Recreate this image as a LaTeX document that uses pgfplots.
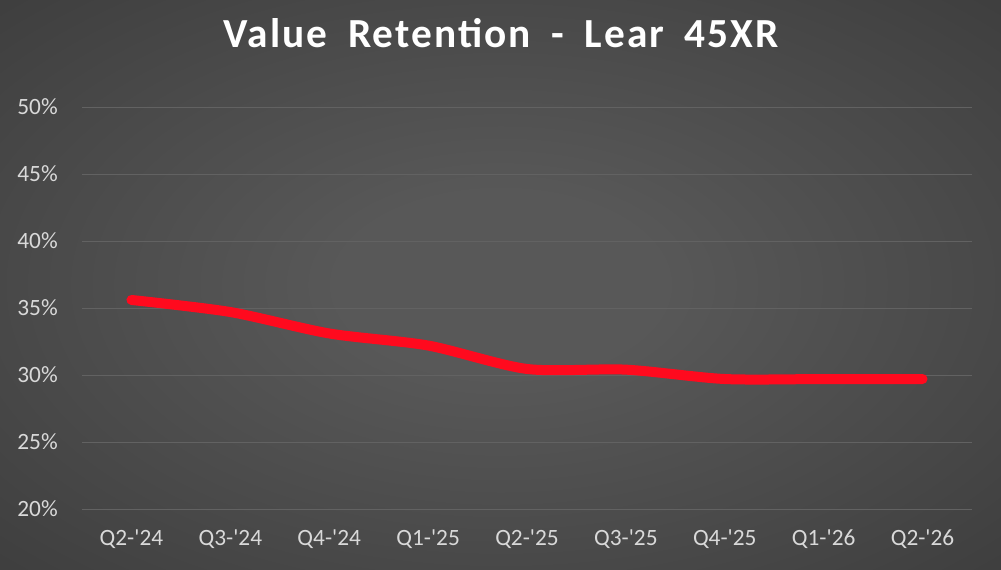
\documentclass[border=0pt]{standalone}
\usepackage{fontspec}
\setmainfont{Carlito}
\newfontfamily\titlefont[LetterSpace=5,WordSpace=1.8]{Carlito}
\usepackage{pgfplots}
\pgfplotsset{compat=1.18}

\definecolor{linered}{HTML}{FF0A1E}
\definecolor{gridgray}{HTML}{626262}
\definecolor{labelgray}{HTML}{D9D9D9}
\definecolor{bgin}{HTML}{585858}
\definecolor{bgmid}{HTML}{313131}
\definecolor{bgout}{HTML}{232323}
\pgfdeclareradialshading{chartbg}{\pgfpoint{0bp}{0bp}}{%
  color(0bp)=(bgin); color(8bp)=(bgin); color(50bp)=(bgmid); color(72bp)=(bgout)}

\begin{document}
\begin{tikzpicture}
% background, 1px = 0.75pt
\shade[shading=chartbg] (0,0) rectangle (750.75pt,426.75pt);
\useasboundingbox (0,0) rectangle (750.75pt,426.75pt);

\node[text=white, font=\titlefont\bfseries\fontsize{31pt}{36pt}\selectfont]
  at (376pt,402pt) {Value Retention - Lear 45XR};

\begin{axis}[
    at={(61.5pt,45pt)}, anchor=south west,
    scale only axis,
    width=667.5pt, height=301.5pt,
    xmin=-0.5, xmax=8.5,
    ymin=20, ymax=50,
    ytick={20,25,...,50},
    xtick={0,...,8},
    xticklabels={Q2-\textquotesingle 24,Q3-\textquotesingle 24,Q4-\textquotesingle 24,
                 Q1-\textquotesingle 25,Q2-\textquotesingle 25,Q3-\textquotesingle 25,
                 Q4-\textquotesingle 25,Q1-\textquotesingle 26,Q2-\textquotesingle 26},
    yticklabel={\pgfmathparse{int(\tick)}\pgfmathresult\%},
    axis line style={draw=none},
    major tick length=0pt,
    ymajorgrids,
    grid style={gridgray, line width=0.75pt},
    tick label style={text=labelgray, font=\fontsize{17.5pt}{20pt}\selectfont},
    yticklabel style={anchor=east, inner sep=0pt, xshift=-18pt},
    xticklabel style={anchor=north, inner sep=0pt, yshift=-15pt},
    clip=false,
]
\addplot[linered, line width=7.5pt, line cap=round, line join=round, smooth, tension=0.45]
coordinates {
    (0,35.6) (1,34.7) (2,33.1) (3,32.2) (4,30.45)
    (5,30.4) (6,29.7) (7,29.7) (8,29.7)
};
\end{axis}
\end{tikzpicture}
\end{document}
